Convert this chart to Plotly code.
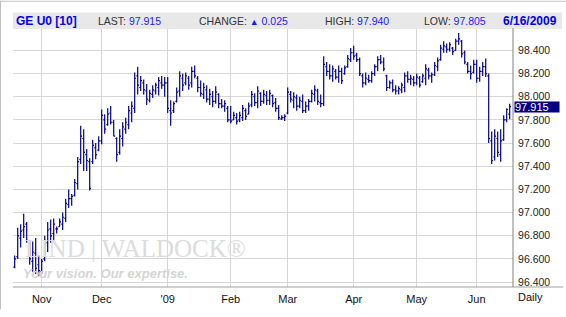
import pandas as pd
import plotly.graph_objects as go

# ---------------- data ----------------
holidays = ["2008-12-25", "2009-01-01", "2009-02-16", "2009-04-10", "2009-05-25"]
dates = [d for d in pd.bdate_range("2008-10-21", "2009-06-16") if d.strftime("%Y-%m-%d") not in holidays]

month_labels = ["Nov", "Dec", "'09", "Feb", "Mar", "Apr", "May", "Jun"]
y_ticks = [96.4, 96.6, 96.8, 97.0, 97.2, 97.4, 97.6, 97.8, 98.0, 98.2, 98.4]

high = [96.63, 96.87, 96.90, 96.99, 96.92, 96.76, 96.75, 96.78, 96.63, 96.60,
        96.80, 96.92, 96.94, 96.95, 96.88, 96.95, 97.00, 97.12, 97.20, 97.16,
        97.29, 97.48, 97.75, 97.72, 97.55, 97.47, 97.63, 97.60, 97.66, 97.89,
        97.85, 97.90, 97.92, 97.80, 97.65, 97.72, 97.78, 97.82, 97.92, 97.96,
        98.21, 98.26, 98.18, 98.15, 98.11, 98.06, 98.10, 98.12, 98.17, 98.18,
        98.17, 98.17, 97.97, 97.96, 98.08, 98.22, 98.20, 98.21, 98.18, 98.26,
        98.27, 98.18, 98.14, 98.12, 98.10, 98.07, 98.05, 98.09, 98.03, 97.98,
        97.97, 97.92, 97.92, 97.87, 97.86, 97.87, 97.93, 97.90, 97.95, 98.05,
        98.03, 98.09, 98.04, 98.06, 98.05, 98.06, 98.02, 97.99, 97.93, 97.84,
        97.85, 98.08, 98.05, 98.04, 98.02, 98.00, 98.02, 97.96, 97.98, 98.06,
        98.10, 98.07, 98.02, 98.35, 98.30, 98.28, 98.27, 98.24, 98.27, 98.25,
        98.27, 98.36, 98.42, 98.44, 98.38, 98.34, 98.20, 98.21, 98.19, 98.22,
        98.28, 98.35, 98.36, 98.34, 98.19, 98.14, 98.15, 98.10, 98.09, 98.12,
        98.21, 98.22, 98.19, 98.18, 98.20, 98.18, 98.20, 98.28, 98.25, 98.21,
        98.30, 98.34, 98.45, 98.48, 98.46, 98.47, 98.43, 98.50, 98.55, 98.49,
        98.40, 98.30, 98.27, 98.32, 98.32, 98.26, 98.30, 98.33, 98.20, 97.70,
        97.72, 97.70, 97.72, 97.84, 97.90, 97.94]

low = [96.52, 96.60, 96.70, 96.78, 96.74, 96.55, 96.49, 96.47, 96.45, 96.47,
       96.58, 96.66, 96.74, 96.76, 96.82, 96.88, 96.85, 96.92, 97.04, 97.06,
       97.14, 97.20, 97.42, 97.36, 97.36, 97.19, 97.42, 97.46, 97.53, 97.59,
       97.68, 97.75, 97.76, 97.66, 97.44, 97.50, 97.57, 97.68, 97.72, 97.78,
       97.86, 98.02, 98.05, 98.02, 97.93, 97.95, 97.99, 98.02, 98.01, 98.07,
       98.00, 97.86, 97.75, 97.86, 97.95, 98.00, 98.05, 98.10, 98.06, 98.08,
       98.16, 98.04, 98.00, 97.98, 97.95, 97.93, 97.91, 97.94, 97.90, 97.90,
       97.87, 97.78, 97.77, 97.80, 97.76, 97.78, 97.79, 97.80, 97.85, 97.91,
       97.92, 97.90, 97.92, 97.94, 97.93, 97.93, 97.91, 97.87, 97.80, 97.80,
       97.79, 97.85, 97.95, 97.90, 97.88, 97.90, 97.86, 97.86, 97.88, 97.95,
       97.96, 97.93, 97.91, 97.92, 98.18, 98.15, 98.13, 98.15, 98.12, 98.11,
       98.19, 98.25, 98.30, 98.32, 98.30, 98.18, 98.08, 98.10, 98.12, 98.12,
       98.18, 98.22, 98.28, 98.22, 98.05, 98.07, 98.04, 98.02, 98.02, 98.03,
       98.04, 98.12, 98.10, 98.09, 98.10, 98.08, 98.12, 98.10, 98.15, 98.12,
       98.18, 98.22, 98.31, 98.38, 98.38, 98.39, 98.36, 98.40, 98.45, 98.34,
       98.28, 98.20, 98.15, 98.20, 98.12, 98.13, 98.18, 98.17, 97.60, 97.42,
       97.45, 97.48, 97.44, 97.62, 97.78, 97.805]

open_ = [96.53, 96.62, 96.78, 96.85, 96.90, 96.74, 96.58, 96.65, 96.55, 96.49,
         96.60, 96.74, 96.86, 96.82, 96.86, 96.88, 96.90, 96.95, 97.07, 97.12,
         97.15, 97.25, 97.46, 97.64, 97.50, 97.44, 97.44, 97.56, 97.54, 97.62,
         97.80, 97.76, 97.86, 97.78, 97.64, 97.52, 97.64, 97.72, 97.76, 97.86,
         97.90, 98.18, 98.08, 98.12, 98.05, 97.97, 98.02, 98.05, 98.08, 98.12,
         98.10, 98.12, 97.88, 97.88, 97.96, 98.05, 98.16, 98.12, 98.16, 98.12,
         98.22, 98.16, 98.08, 98.02, 98.06, 97.98, 98.00, 97.96, 98.02, 97.94,
         97.92, 97.90, 97.80, 97.80, 97.82, 97.80, 97.82, 97.88, 97.85, 97.93,
         98.00, 97.95, 98.03, 97.96, 98.01, 97.97, 98.01, 97.95, 97.90, 97.81,
         97.82, 97.86, 98.02, 97.97, 97.99, 97.92, 97.96, 97.88, 97.92, 97.96,
         98.02, 98.05, 97.95, 97.94, 98.26, 98.22, 98.18, 98.22, 98.17, 98.22,
         98.20, 98.26, 98.32, 98.38, 98.36, 98.32, 98.18, 98.12, 98.15, 98.14,
         98.20, 98.26, 98.32, 98.30, 98.18, 98.08, 98.12, 98.06, 98.05, 98.06,
         98.08, 98.18, 98.15, 98.15, 98.12, 98.16, 98.13, 98.16, 98.23, 98.18,
         98.19, 98.26, 98.32, 98.41, 98.43, 98.41, 98.42, 98.40, 98.48, 98.48,
         98.38, 98.28, 98.22, 98.21, 98.28, 98.16, 98.22, 98.26, 98.18, 97.62,
         97.48, 97.64, 97.50, 97.63, 97.80, 97.85]

close = [96.60, 96.80, 96.84, 96.88, 96.76, 96.60, 96.66, 96.52, 96.50, 96.58,
         96.76, 96.85, 96.80, 96.90, 96.86, 96.92, 96.96, 97.08, 97.12, 97.14,
         97.26, 97.44, 97.66, 97.52, 97.45, 97.21, 97.58, 97.50, 97.62, 97.84,
         97.72, 97.85, 97.78, 97.66, 97.50, 97.66, 97.74, 97.78, 97.88, 97.92,
         98.16, 98.10, 98.14, 98.06, 97.98, 98.03, 98.06, 98.10, 98.14, 98.10,
         98.12, 97.90, 97.86, 97.94, 98.04, 98.18, 98.10, 98.18, 98.10, 98.22,
         98.18, 98.08, 98.03, 98.08, 97.98, 98.02, 97.96, 98.04, 97.94, 97.92,
         97.94, 97.80, 97.79, 97.84, 97.79, 97.84, 97.90, 97.83, 97.92, 98.02,
         97.95, 98.05, 97.96, 98.02, 97.97, 98.03, 97.94, 97.90, 97.82, 97.82,
         97.83, 98.04, 97.98, 98.00, 97.92, 97.97, 97.88, 97.92, 97.96, 98.03,
         98.06, 97.96, 97.94, 98.28, 98.22, 98.18, 98.24, 98.17, 98.22, 98.14,
         98.25, 98.33, 98.38, 98.35, 98.32, 98.20, 98.12, 98.16, 98.14, 98.20,
         98.26, 98.32, 98.30, 98.24, 98.08, 98.12, 98.06, 98.05, 98.07, 98.10,
         98.18, 98.15, 98.16, 98.12, 98.17, 98.10, 98.18, 98.24, 98.18, 98.19,
         98.27, 98.31, 98.42, 98.44, 98.41, 98.45, 98.39, 98.48, 98.50, 98.37,
         98.30, 98.22, 98.20, 98.28, 98.16, 98.22, 98.26, 98.20, 97.64, 97.45,
         97.66, 97.52, 97.62, 97.80, 97.89, 97.915]

header = {"symbol": "GE U0 [10]", "last": "97.915", "change": "0.025",
          "high": "97.940", "low": "97.805", "date": "6/16/2009"}

# ---------------- geometry helpers (pixel -> paper) ----------------
W, H = 566, 317
P_L, P_R, P_T, P_B = 13, 513, 29, 294


def px(x):
    return (x - P_L) / (P_R - P_L)


def py(y):
    return (P_B - y) / (P_B - P_T)


NAVY = "#00008b"
BLUE = "#1a1aff"
GREY_TXT = "#333333"
GRID = "#d6d6d6"
FONT = "Liberation Sans, Arial, sans-serif"

idx = list(range(len(dates)))
month_idx = []
seen = set()
for i, d in enumerate(dates):
    key = (d.year, d.month)
    if key not in seen:
        seen.add(key)
        if i > 0:
            month_idx.append(i)

x_range = [-0.567, -0.567 + (P_R - P_L) / 3.0]
y_range = [96.358, 98.585]


def xdata(p):
    return x_range[0] + (p - P_L) / (P_R - P_L) * (x_range[1] - x_range[0])


def ydata(p):
    return y_range[1] - (p - P_T) / (P_B - P_T) * (y_range[1] - y_range[0])


fig = go.Figure()

# watermark (behind bars)
fig.add_trace(go.Scatter(
    x=[xdata(25), xdata(23)], y=[ydata(257), ydata(281)],
    mode="text",
    text=["LIND | WALDOCK®", "<b><i>Your vision. Our expertise.</i></b>"],
    textposition="middle right",
    textfont=dict(family=["Liberation Serif, Times New Roman, serif", FONT],
                  size=[25, 13], color=["#dcdcdc", "#d4d4d4"]),
    hoverinfo="skip", showlegend=False,
))

fig.add_trace(go.Ohlc(
    x=idx, open=open_, high=high, low=low, close=close,
    increasing=dict(line=dict(color=NAVY, width=1.2)),
    decreasing=dict(line=dict(color=NAVY, width=1.2)),
    tickwidth=0.45, hoverinfo="skip", showlegend=False,
))

fig.update_layout(
    width=W, height=H,
    margin=dict(l=P_L, r=W - P_R, t=P_T, b=H - P_B),
    paper_bgcolor="white", plot_bgcolor="white",
    font=dict(family=FONT, size=11, color="#222222"),
    showlegend=False,
    xaxis=dict(range=x_range, rangeslider=dict(visible=False),
               tickvals=month_idx, ticktext=month_labels,
               showgrid=True, gridcolor=GRID, gridwidth=1,
               zeroline=False, showline=False, ticks="",
               ticklabelstandoff=4,
               tickfont=dict(size=11, color="#111111")),
    yaxis=dict(range=y_range, side="right", tickvals=y_ticks, tickformat=".3f",
               showgrid=True, gridcolor=GRID, gridwidth=1,
               zeroline=False, showline=False, ticks="outside", ticklen=2,
               tickcolor="white", tickfont=dict(size=10.5, color="#222222")),
)

shapes = [
    # header bar
    dict(type="rect", xref="paper", yref="paper", x0=px(13), x1=px(562), y0=py(29), y1=py(12),
         fillcolor="#e8e8e8", line=dict(width=0), layer="below"),
    # bottom axis line
    dict(type="line", xref="paper", yref="paper", x0=px(13), x1=px(563), y0=0, y1=0,
         line=dict(color="#a0a0a0", width=1)),
    # right axis line
    dict(type="line", xref="paper", yref="paper", x0=1, x1=1, y0=0, y1=py(28),
         line=dict(color="#808080", width=1)),
    # outer frame (left / top)
    dict(type="line", xref="paper", yref="paper", x0=px(0.5), x1=px(0.5), y0=py(317), y1=py(0),
         line=dict(color="#c0c0c0", width=1)),
    dict(type="line", xref="paper", yref="paper", x0=px(0), x1=px(566), y0=py(0.5), y1=py(0.5),
         line=dict(color="#c0c0c0", width=1)),
]
fig.update_layout(shapes=shapes)


def lab(name, value):
    return ("<span style='color:%s'>%s</span> <span style='color:%s'>%s</span>"
            % (GREY_TXT, name, BLUE, value))


hy = py(20.5)
ann = [
    dict(text="<b>" + header["symbol"] + "</b>", x=px(14), font=dict(size=12, color="#0000ee"), xanchor="left"),
    dict(text=lab("LAST:", header["last"]), x=px(96), font=dict(size=10.5), xanchor="left"),
    dict(text="<span style='color:%s'>CHANGE:</span> <span style='color:%s;font-size:9px'>▲</span> "
              "<span style='color:%s'>%s</span>" % (GREY_TXT, BLUE, BLUE, header["change"]),
         x=px(197), font=dict(size=10.5), xanchor="left"),
    dict(text=lab("HIGH:", header["high"]), x=px(323), font=dict(size=10.5), xanchor="left"),
    dict(text=lab("LOW:", header["low"]), x=px(422), font=dict(size=10.5), xanchor="left"),
    dict(text="<b>" + header["date"] + "</b>", x=px(559), font=dict(size=12, color="#0000ee"), xanchor="right"),
]
annotations = []
for a in ann:
    a.update(dict(xref="paper", yref="paper", y=hy, yanchor="middle", showarrow=False))
    annotations.append(a)

annotations.append(dict(text="Daily", xref="paper", yref="paper", x=px(530), y=py(304),
                        xanchor="center", yanchor="middle", showarrow=False,
                        font=dict(size=11, color="#111111")))
annotations.append(dict(text=header["last"], xref="paper", yref="y", x=px(514), y=float(header["last"]),
                        xanchor="left", yanchor="middle", showarrow=False,
                        bgcolor="#000080", font=dict(size=11, color="white"),
                        width=44, height=10, align="left", borderpad=0))
fig.update_layout(annotations=annotations)

fig.write_html("out.html")
